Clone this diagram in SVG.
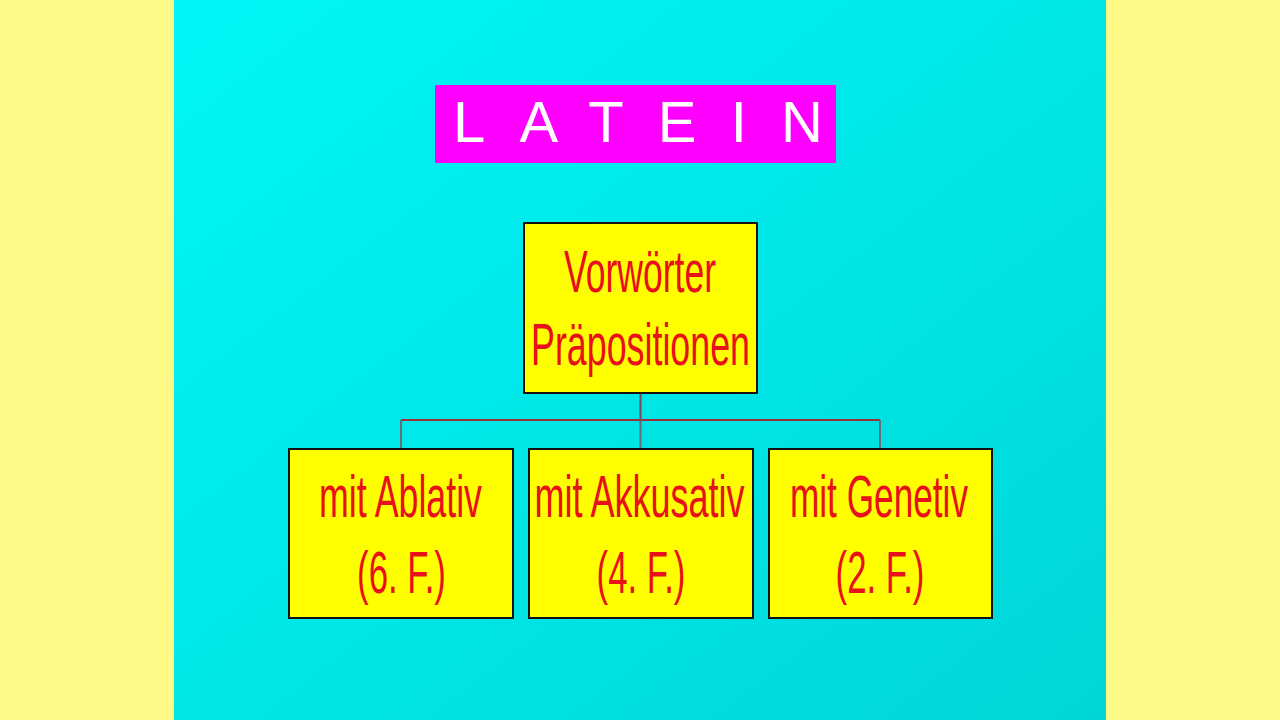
<svg xmlns="http://www.w3.org/2000/svg" width="1280" height="720" viewBox="0 0 1280 720">
<defs>
<linearGradient id="bg" x1="0" y1="0" x2="1" y2="1">
<stop offset="0" stop-color="#00f7f7"/>
<stop offset="1" stop-color="#00d6d8"/>
</linearGradient>
</defs>
<style>
.box{fill:#ffff00;stroke:#111;stroke-width:2}
.lbl{font-family:"Liberation Sans",Arial,sans-serif;font-size:60px;fill:#e8101a;text-anchor:middle}
.conn{fill:none;stroke-width:2}
</style>
<rect x="0" y="0" width="1280" height="720" fill="#fefa88"/>
<rect x="174" y="0" width="932" height="720" fill="url(#bg)"/>
<g id="title">
<rect x="435" y="85" width="401" height="78" fill="#ff00ff"/>
<text x="453" y="142" font-family="'Liberation Sans',Arial,sans-serif" font-size="58" fill="#ffffff" textLength="370" lengthAdjust="spacing">LATEIN</text>
</g>
<g id="connectors">
<path class="conn" stroke="#7a4a55" d="M640.5 393 V420"/>
<path class="conn" stroke="#9a3038" d="M401 420 H880"/>
<path class="conn" stroke="#6a6a78" d="M401 420 V449 M640.5 420 V449 M880 420 V449"/>
</g>
<g id="root">
<rect class="box" x="524" y="223" width="233" height="170"/>
<text class="lbl" transform="translate(640 292) scale(0.592 1)">Vorwörter</text>
<text class="lbl" transform="translate(640.5 365) scale(0.597 1)">Präpositionen</text>
</g>
<g id="ablativ">
<rect class="box" x="289" y="449" width="224" height="169"/>
<text class="lbl" transform="translate(400.5 517) scale(0.596 1)">mit Ablativ</text>
<text class="lbl" transform="translate(401.5 593) scale(0.58 1)">(6. F.)</text>
</g>
<g id="akkusativ">
<rect class="box" x="529" y="449" width="224" height="169"/>
<text class="lbl" transform="translate(639.5 517) scale(0.6 1)">mit Akkusativ</text>
<text class="lbl" transform="translate(641 593) scale(0.58 1)">(4. F.)</text>
</g>
<g id="genetiv">
<rect class="box" x="769" y="449" width="223" height="169"/>
<text class="lbl" transform="translate(879 517) scale(0.587 1)">mit Genetiv</text>
<text class="lbl" transform="translate(880 593) scale(0.58 1)">(2. F.)</text>
</g>
</svg>
